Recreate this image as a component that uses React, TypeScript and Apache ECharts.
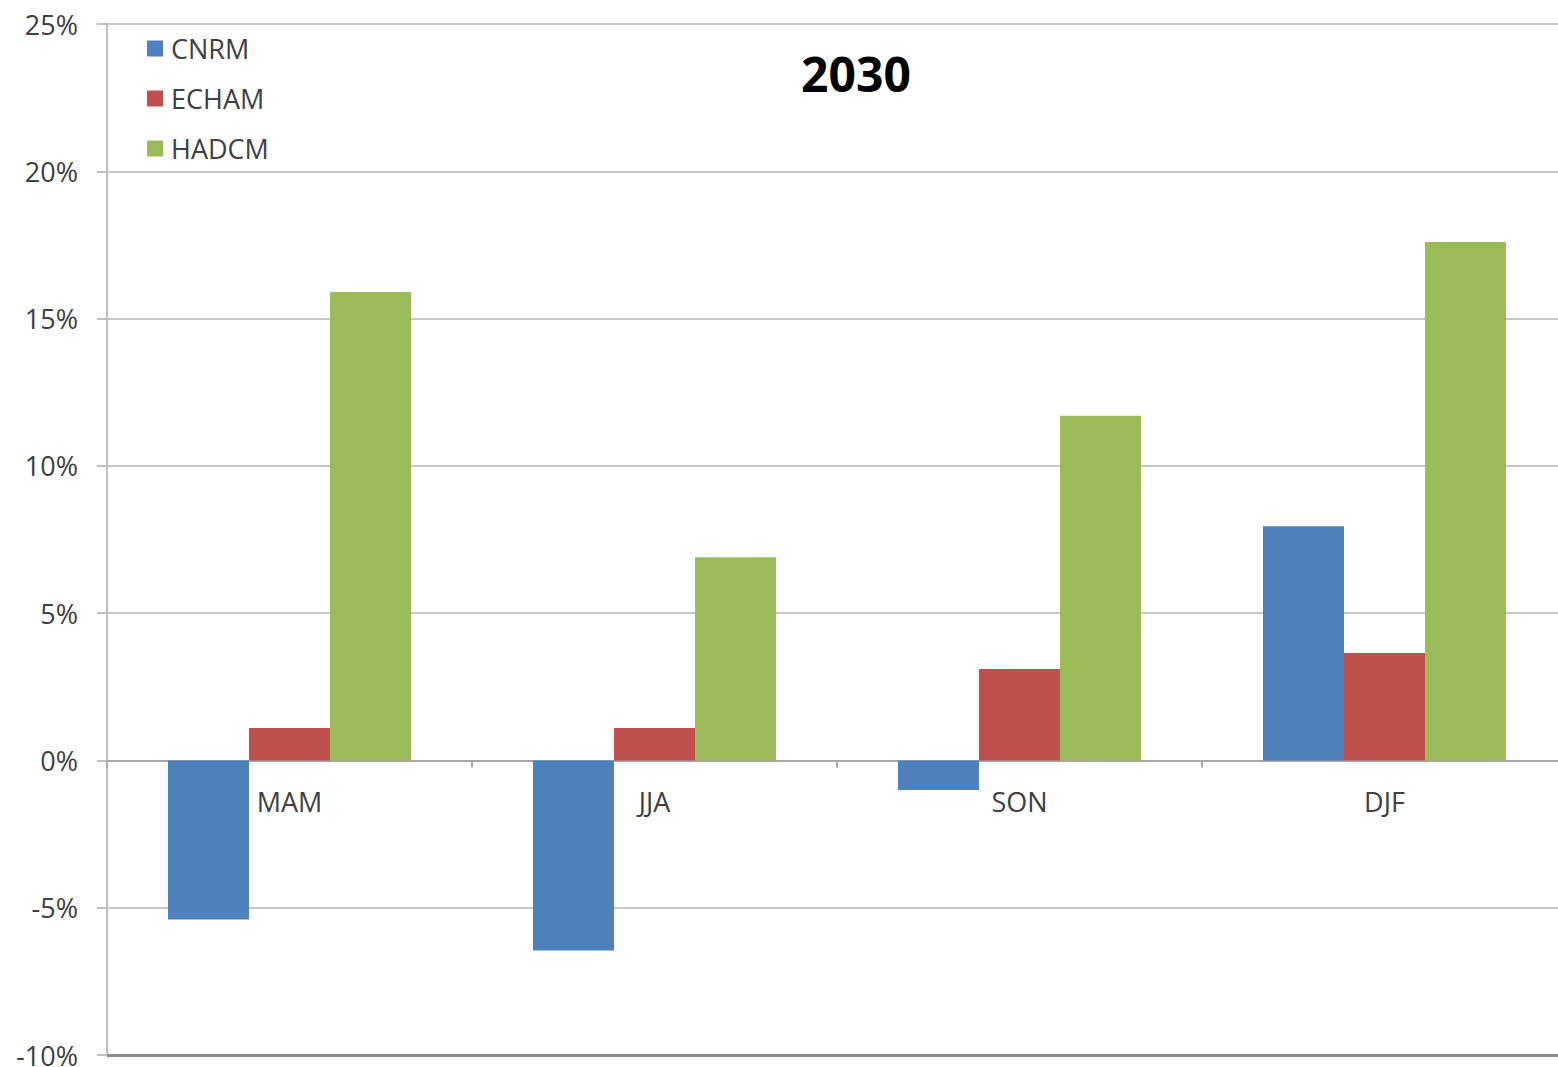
import React, { useEffect, useRef } from "react";
import * as echarts from "echarts";

const categories = ["MAM", "JJA", "SON", "DJF"];
const cnrm = [-5.4, -6.45, -1.0, 7.95];
const echam = [1.1, 1.1, 3.1, 3.65];
const hadcm = [15.9, 6.9, 11.7, 17.6];
const title = "2030";

const Y_MIN = -10;
const Y_MAX = 25;

export default function App() {
  const ref = useRef<HTMLDivElement>(null);
  useEffect(() => {
    const chart = echarts.init(ref.current!, null, { renderer: "svg" });
    const font = "'Open Sans', 'Noto Sans', sans-serif";
    const gridTop = 24;
    const gridBottom = 12;
    const plotH = 1067 - gridTop - gridBottom;
    // place category axis on the zero line
    const zeroOffset = -(plotH * (0 - Y_MIN)) / (Y_MAX - Y_MIN);
    chart.setOption({
      animation: false,
      backgroundColor: "#ffffff",
      title: {
        text: title,
        left: 851,
        top: 44,
        textAlign: "center",
        textStyle: { fontSize: 48, fontWeight: "bold", color: "#000", fontFamily: font },
      },
      legend: {
        orient: "vertical",
        left: 142,
        top: 30,
        itemWidth: 16,
        itemHeight: 16,
        itemGap: 23,
        icon: "rect",
        textStyle: { fontSize: 27, color: "#404040", fontFamily: font, padding: [0, 0, 0, 3] },
        data: ["CNRM", "ECHAM", "HADCM"],
      },
      grid: { left: 107, right: -9, top: gridTop, bottom: gridBottom, containLabel: false, outerBoundsMode: "none" },
      xAxis: {
        type: "category",
        data: categories,
        position: "bottom",
        offset: zeroOffset,
        axisLine: { onZero: false, lineStyle: { color: "#a6a6a6", width: 2 } },
        axisTick: { show: true, length: 7, lineStyle: { color: "#a6a6a6", width: 2 } },
        axisLabel: { fontSize: 27, color: "#404040", margin: 28, fontFamily: font },
      },
      yAxis: {
        type: "value",
        min: Y_MIN,
        max: Y_MAX,
        interval: 5,
        axisLine: { show: true, lineStyle: { color: "#bfbfbf", width: 2 } },
        axisTick: { show: true, length: 10, lineStyle: { color: "#bfbfbf", width: 2 } },
        axisLabel: {
          formatter: (v: number) => `${v}%`,
          fontSize: 27,
          color: "#404040",
          margin: 29,
          fontFamily: font,
        },
        splitLine: { show: true, lineStyle: { color: "#c8c8c8", width: 2 } },
      },
      series: [
        {
          name: "CNRM",
          type: "bar",
          data: cnrm,
          itemStyle: { color: "#4f81bd" },
          barGap: "0%",
          barCategoryGap: "33.4%",
          markLine: {
            silent: true,
            symbol: "none",
            label: { show: false },
            lineStyle: { color: "#8c8c8c", width: 3, type: "solid" },
            data: [{ yAxis: Y_MIN }],
          },
        },
        { name: "ECHAM", type: "bar", data: echam, itemStyle: { color: "#c0504d" }, barGap: "0%", barCategoryGap: "33.4%" },
        { name: "HADCM", type: "bar", data: hadcm, itemStyle: { color: "#9bbb59" }, barGap: "0%", barCategoryGap: "33.4%" },
      ],
    });
    return () => chart.dispose();
  }, []);
  return (
    <div
      ref={ref}
      style={{ position: "fixed", left: 0, top: 0, width: 1558, height: 1067, background: "#fff" }}
    />
  );
}
